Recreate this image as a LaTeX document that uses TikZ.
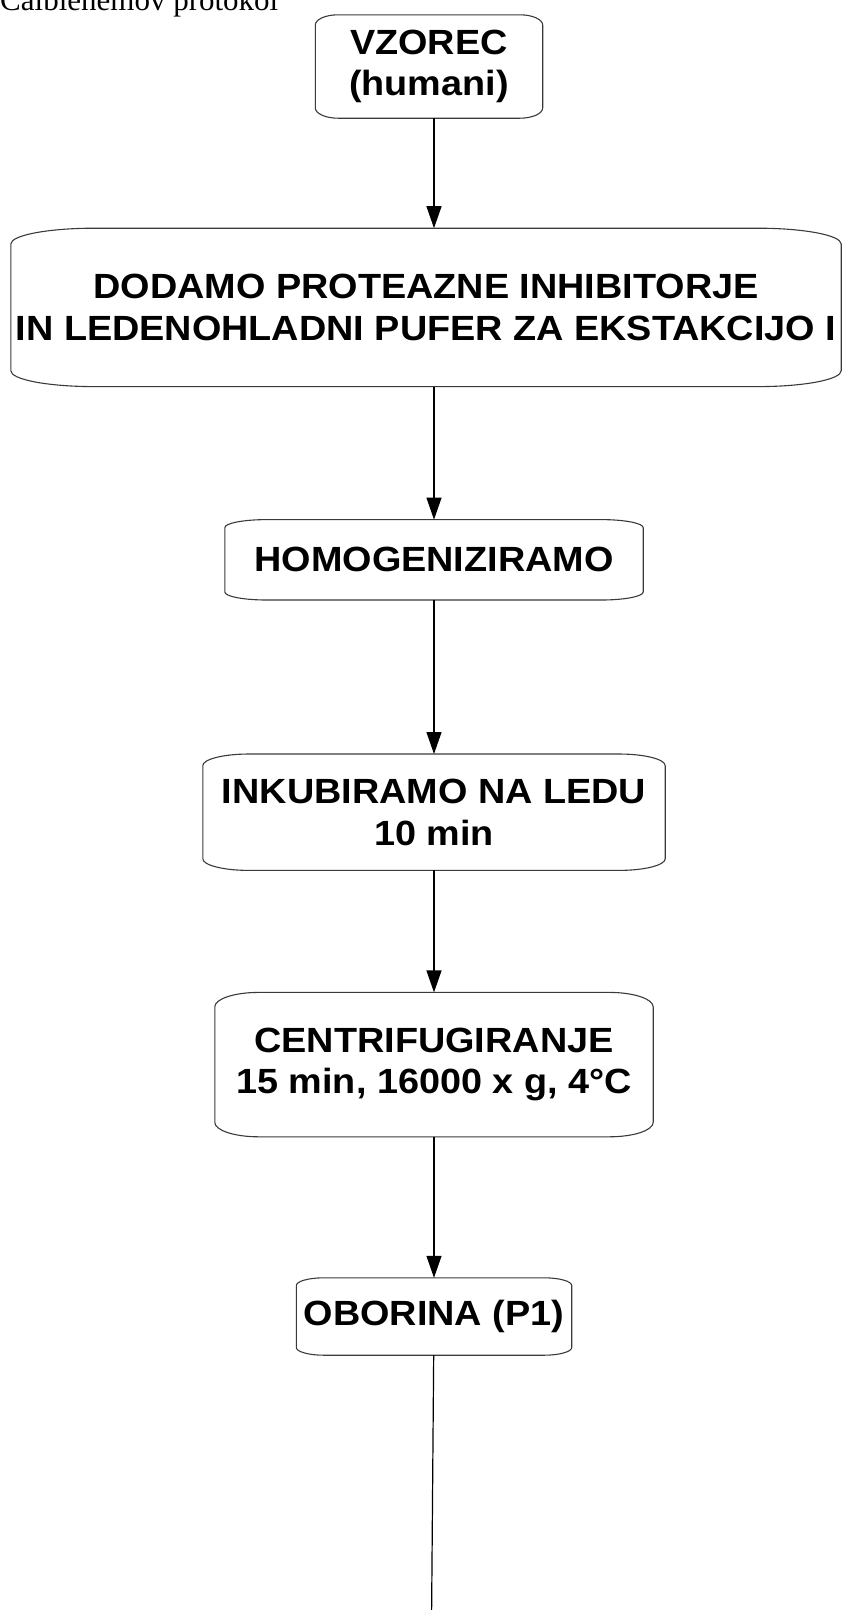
\documentclass[tikz,border=0pt]{standalone}
\usepackage{fontspec}
\usetikzlibrary{positioning,arrows.meta,calc}
\newfontfamily\boxfont[FakeStretch=1.08]{Liberation Sans}
\newfontfamily\titlefont{Liberation Serif}
\definecolor{FrameGray}{HTML}{3A3A3A}

% outline with flat elliptic corners around a node
\newcommand{\flowframe}[1]{%
  \draw[frame] let \p1=(#1.south west), \p2=(#1.north east),
      \n1={0.1*(\x2-\x1)}, \n2={0.1*(\y2-\y1)} in
    (\x1+\n1,\y2) -- (\x2-\n1,\y2)
    arc[start angle=90,end angle=0,x radius=\n1,y radius=\n2]
    -- (\x2,\y1+\n2)
    arc[start angle=0,end angle=-90,x radius=\n1,y radius=\n2]
    -- (\x1+\n1,\y1)
    arc[start angle=270,end angle=180,x radius=\n1,y radius=\n2]
    -- (\x1,\y2-\n2)
    arc[start angle=180,end angle=90,x radius=\n1,y radius=\n2] -- cycle;}

\begin{document}
\begin{tikzpicture}[>=Triangle]
  \tikzstyle{stepbox}=[inner sep=0pt,align=center,font=\boxfont\bfseries\fontsize{35}{41.5}\selectfont]
  \tikzstyle{frame}=[draw=FrameGray,line width=1.1pt]
  \tikzstyle{arrow}=[-{Triangle[length=22pt,width=15pt]},line width=1.2pt]
  \useasboundingbox (0,0) rectangle (843pt,-1610pt);
  % heading, cut off by the top edge
  \node[anchor=base west,inner sep=0pt,font=\titlefont\fontsize{31}{31}\selectfont] (naslov) at (0pt,-10.7pt) {Calbienemov protokol};
  \node[stepbox,minimum width=227pt,minimum height=103pt] (vzorec) at (429pt,-66.5pt) {VZOREC\\(humani)};
  \node[stepbox,minimum width=830pt,minimum height=158pt,below=110pt of vzorec,xshift=-3pt] (dodamo) {DODAMO PROTEAZNE INHIBITORJE\\IN LEDENOHLADNI PUFER ZA EKSTAKCIJO I};
  \node[stepbox,minimum width=418pt,minimum height=80pt,below=133pt of dodamo,xshift=8pt] (homog) {HOMOGENIZIRAMO};
  \node[stepbox,minimum width=462pt,minimum height=116pt,below=154pt of homog] (inkub) {INKUBIRAMO NA LEDU\\10 min};
  \node[stepbox,minimum width=438pt,minimum height=144pt,below=122pt of inkub] (centri) {CENTRIFUGIRANJE\\15 min, 16000 x g, 4°C};
  \node[stepbox,minimum width=275pt,minimum height=77pt,below=141pt of centri] (oborina) {OBORINA (P1)};
  \coordinate (konec) at (431.5pt,-1625pt);
  \foreach \stap in {vzorec,dodamo,homog,inkub,centri,oborina}
    \flowframe{\stap};
  \draw[arrow] (vzorec.south -| homog) -- (dodamo.north -| homog);
  \draw[arrow] (dodamo.south -| homog) -- (homog);
  \draw[arrow] (homog) -- (inkub);
  \draw[arrow] (inkub) -- (centri);
  \draw[arrow] (centri) -- (oborina);
  \draw[line width=1.2pt] (oborina) -- (konec);
\end{tikzpicture}
\end{document}
